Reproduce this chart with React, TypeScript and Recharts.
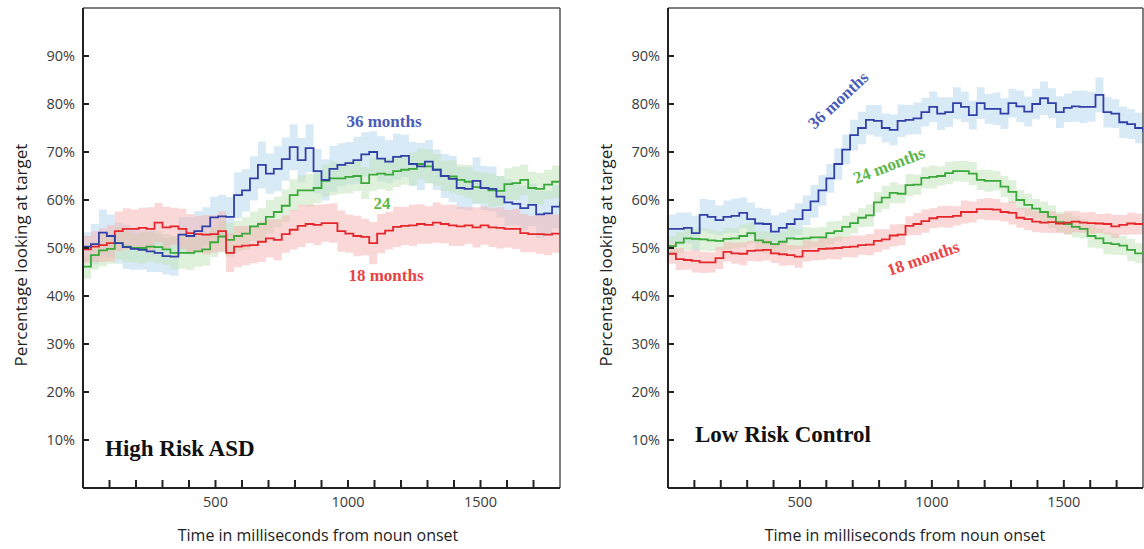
import { ComposedChart, Area, Line, XAxis, YAxis, ReferenceLine } from 'recharts'

// time in ms from noun onset, one step every 30 ms
const times = [
  0, 30, 60, 90, 120, 150, 180, 210, 240, 270,
  300, 330, 360, 390, 420, 450, 480, 510, 540, 570,
  600, 630, 660, 690, 720, 750, 780, 810, 840, 870,
  900, 930, 960, 990, 1020, 1050, 1080, 1110, 1140, 1170,
  1200, 1230, 1260, 1290, 1320, 1350, 1380, 1410, 1440, 1470,
  1500, 1530, 1560, 1590, 1620, 1650, 1680, 1710, 1740, 1770,
  1800,
]

// High Risk ASD
const hrBlue = [
  50.3, 50.8, 53.2, 52.5, 51.0, 50.2, 49.8, 49.6, 49.3, 49.0,
  48.3, 48.2, 52.8, 52.5, 53.5, 54.5, 56.4, 56.6, 56.5, 61.0,
  62.0, 64.5, 67.3, 65.5, 66.5, 68.5, 71.0, 68.3, 70.8, 66.0,
  64.2, 66.5, 67.3, 67.7, 68.3, 69.5, 70.0, 68.6, 68.0, 69.0,
  69.2, 67.5, 67.0, 68.0, 66.3, 65.0, 64.4, 62.5, 62.3, 64.0,
  62.5, 62.3, 60.7, 59.5, 59.2, 58.3, 59.0, 57.0, 57.2, 58.6,
  59.7,
]
const hrGreen = [
  46.1, 48.5, 49.5, 49.8, 51.0, 50.3, 50.0, 50.0, 50.3, 50.2,
  49.7, 49.0, 49.0, 49.0, 49.3, 49.7, 51.2, 52.4, 51.7, 52.5,
  53.0, 54.5, 55.0, 56.5, 57.5, 58.8, 61.0, 62.0, 62.0, 62.5,
  64.0, 64.5, 64.5, 64.8, 65.0, 63.5, 65.3, 65.5, 65.3, 66.0,
  66.3, 66.5, 67.5, 67.0, 66.3, 65.0, 64.9, 64.2, 63.8, 62.7,
  62.5, 62.0, 61.9, 63.3, 63.5, 64.2, 62.5, 62.3, 63.2, 63.8,
  63.8,
]
const hrRed = [
  49.7, 50.3, 50.6, 51.0, 53.5, 54.0, 54.0, 54.2, 54.0, 55.3,
  54.3, 54.5, 54.0, 53.1, 52.9, 52.8, 52.9, 53.5, 49.0, 50.3,
  50.5, 50.6, 51.3, 52.0, 51.7, 52.9, 53.8, 54.6, 55.0, 54.8,
  55.2, 55.2, 53.5, 53.0, 52.5, 52.3, 51.0, 53.0, 53.6, 54.4,
  54.6, 54.7, 55.0, 54.8, 55.3, 55.0, 54.7, 54.5, 54.7, 54.3,
  54.7, 54.3, 54.2, 54.0, 54.0, 53.1, 52.9, 52.9, 52.8, 53.0,
  53.1,
]
const hrBlueErr = [
  3.0, 4.2, 4.8, 4.5, 4.3, 4.6, 4.4, 4.1, 4.3, 4.0,
  3.8, 4.0, 3.6, 3.9, 4.2, 4.0, 4.3, 4.5, 4.1, 4.8,
  4.4, 4.6, 4.9, 4.2, 4.7, 4.5, 4.8, 4.6, 5.0, 4.6,
  4.3, 4.8, 4.5, 4.4, 4.9, 4.6, 4.3, 4.7, 4.5, 4.8,
  4.4, 4.6, 4.9, 4.5, 4.2, 4.6, 4.8, 4.4, 4.5, 4.9,
  4.6, 4.7, 4.3, 4.8, 4.5, 4.6, 4.4, 4.9, 4.7, 4.5,
  4.6,
]
const hrGreenErr = [
  2.5, 3.0, 3.3, 3.1, 3.4, 3.2, 3.0, 3.3, 3.1, 3.4,
  3.2, 3.5, 3.3, 3.6, 3.2, 3.4, 3.1, 3.3, 3.5, 3.2,
  3.4, 3.1, 3.3, 3.5, 3.2, 3.4, 3.3, 3.1, 3.4, 3.2,
  3.3, 3.5, 3.2, 3.4, 3.1, 3.3, 3.5, 3.2, 3.4, 3.3,
  3.1, 3.4, 3.2, 3.5, 3.3, 3.1, 3.4, 3.2, 3.5, 3.3,
  3.2, 3.4, 3.1, 3.3, 3.5, 3.2, 3.4, 3.3, 3.1, 3.4,
  3.2,
]
const hrRedErr = [
  2.8, 3.2, 3.5, 3.8, 4.1, 4.3, 4.0, 4.2, 4.5, 4.1,
  4.3, 3.9, 4.2, 4.0, 3.8, 4.1, 3.9, 4.2, 4.0, 4.3,
  4.1, 3.8, 4.2, 4.0, 4.3, 3.9, 4.1, 4.4, 4.0, 4.2,
  3.9, 4.1, 4.3, 4.0, 4.2, 3.8, 4.4, 4.1, 3.9, 4.2,
  4.0, 4.3, 4.1, 3.9, 4.2, 4.0, 4.3, 4.1, 3.8, 4.2,
  4.0, 4.1, 4.3, 3.9, 4.2, 4.0, 3.8, 4.1, 4.3, 4.0,
  4.1,
]

// Low Risk Control
const lrBlue = [
  54.0, 54.0, 54.2, 53.1, 56.9, 56.5, 55.8, 56.5, 56.7, 57.3,
  56.0, 55.1, 55.0, 53.4, 54.2, 55.0, 56.0, 57.9, 59.7, 62.0,
  64.5, 67.5, 70.5, 73.5, 75.0, 76.7, 76.5, 75.0, 74.6, 76.5,
  76.7, 77.0, 78.3, 79.4, 78.0, 78.3, 80.2, 79.4, 77.7, 80.2,
  79.0, 79.0, 78.0, 80.2, 79.5, 78.4, 80.0, 81.2, 80.2, 78.3,
  79.2, 79.5, 79.4, 79.4, 81.9, 78.3, 78.0, 76.2, 75.8, 75.0,
  74.2,
]
const lrGreen = [
  50.4, 51.1, 52.0, 51.9, 51.8, 51.6, 51.5, 51.9, 52.0, 52.5,
  53.1, 51.6, 51.2, 50.8, 51.3, 52.0, 51.9, 52.0, 52.2, 52.2,
  53.1, 53.5, 54.4, 55.2, 56.3, 56.8, 59.5, 60.5, 61.5, 61.3,
  63.1, 63.2, 64.6, 64.8, 65.0, 65.6, 66.0, 66.0, 65.5, 64.2,
  64.0, 64.0, 62.8, 61.7, 60.0, 59.0, 58.2, 57.5, 56.5, 55.4,
  55.0, 54.4, 54.0, 52.5, 52.0, 51.0, 50.8, 50.5, 49.6, 48.9,
  49.3,
]
const lrRed = [
  48.8, 47.7, 47.5, 47.3, 47.0, 47.0, 47.9, 49.2, 48.9, 48.8,
  49.4, 49.5, 49.6, 48.9, 48.7, 48.5, 48.2, 49.4, 49.4, 49.8,
  49.9, 50.0, 50.2, 50.3, 50.6, 50.7, 51.5, 51.8, 52.6, 52.8,
  54.6, 55.0, 55.6, 56.2, 56.5, 56.5, 56.7, 57.5, 57.5, 58.1,
  58.1, 58.0, 57.5, 57.3, 56.3, 56.0, 55.5, 55.3, 55.4, 55.1,
  55.3, 55.5, 55.3, 55.2, 55.1, 55.0, 54.5, 54.8, 55.1, 55.0,
  55.0,
]
const lrBlueErr = [
  3.0, 3.4, 3.2, 3.6, 3.3, 3.5, 3.1, 3.4, 3.6, 3.2,
  3.5, 3.3, 3.1, 3.4, 3.2, 3.0, 3.3, 3.1, 3.4, 3.2,
  3.0, 3.3, 3.1, 3.2, 3.4, 3.1, 3.3, 3.0, 3.2, 3.4,
  3.1, 3.3, 3.0, 3.2, 3.4, 3.1, 3.3, 3.2, 3.0, 3.3,
  3.1, 3.4, 3.2, 3.0, 3.3, 3.1, 3.2, 3.5, 3.1, 3.3,
  3.0, 3.2, 3.4, 3.1, 3.6, 3.2, 3.0, 3.3, 3.1, 3.2,
  3.0,
]
const lrGreenErr = [
  2.0, 2.2, 2.4, 2.1, 2.3, 2.2, 2.0, 2.3, 2.1, 2.4,
  2.2, 2.0, 2.3, 2.1, 2.2, 2.4, 2.1, 2.3, 2.0, 2.2,
  2.4, 2.1, 2.3, 2.2, 2.0, 2.3, 2.1, 2.4, 2.2, 2.0,
  2.3, 2.1, 2.2, 2.4, 2.0, 2.3, 2.1, 2.2, 2.4, 2.1,
  2.3, 2.0, 2.2, 2.4, 2.1, 2.3, 2.0, 2.2, 2.4, 2.1,
  2.3, 2.2, 2.0, 2.4, 2.1, 2.3, 2.2, 2.0, 2.3, 2.1,
  2.2,
]
const lrRedErr = [
  2.1, 2.3, 2.0, 2.4, 2.2, 2.1, 2.3, 2.0, 2.2, 2.4,
  2.1, 2.3, 2.2, 2.0, 2.4, 2.1, 2.3, 2.2, 2.0, 2.3,
  2.2, 2.4, 2.1, 2.3, 2.0, 2.2, 2.4, 2.1, 2.3, 2.2,
  2.0, 2.3, 2.4, 2.1, 2.2, 2.3, 2.0, 2.4, 2.2, 2.1,
  2.3, 2.2, 2.0, 2.4, 2.1, 2.3, 2.2, 2.1, 2.3, 2.0,
  2.4, 2.2, 2.1, 2.3, 2.0, 2.2, 2.4, 2.1, 2.3, 2.2,
  2.1,
]

const xTicks = [100, 200, 300, 400, 500, 600, 700, 800, 900, 1000, 1100, 1200, 1300, 1400, 1500, 1600, 1700]
const yTicks = [10, 20, 30, 40, 50, 60, 70, 80, 90]

const BLUE = '#3040a6'
const GREEN = '#3aa93a'
const RED = '#e5262a'

const band = (v: number, e: number) => [v - e, v + e]

function buildRows(blue: number[], blueErr: number[], green: number[], greenErr: number[], red: number[], redErr: number[]) {
  return times.map((t, i) => ({
    t,
    blue: blue[i],
    green: green[i],
    red: red[i],
    blueBand: band(blue[i], blueErr[i]),
    greenBand: band(green[i], greenErr[i]),
    redBand: band(red[i], redErr[i]),
  }))
}

const hrRows = buildRows(hrBlue, hrBlueErr, hrGreen, hrGreenErr, hrRed, hrRedErr)
const lrRows = buildRows(lrBlue, lrBlueErr, lrGreen, lrGreenErr, lrRed, lrRedErr)

const tickStyle = { fill: '#3a3a3a', fontSize: 14.5, fontFamily: 'Open Sans, sans-serif' }
const seriesFont = { fontFamily: 'Liberation Serif, serif', fontSize: 17, fontWeight: 700 }

function Panel({ rows, width }: { rows: any[]; width: number }) {
  return (
    <ComposedChart
      width={width}
      height={549}
      data={rows}
      margin={{ top: 8, right: 1, left: 0, bottom: 31 }}
    >
      <XAxis
        type="number"
        dataKey="t"
        domain={[0, 1800]}
        ticks={xTicks}
        interval={0}
        height={30}
        tickFormatter={(v: number) => (v % 500 === 0 ? String(v) : '')}
        tickSize={-8}
        tickMargin={17}
        tick={tickStyle}
        stroke="#222"
        strokeWidth={2}
        allowDataOverflow
      />
      <YAxis
        type="number"
        domain={[0, 100]}
        ticks={yTicks}
        interval={0}
        tickFormatter={(v: number) => `${v}%`}
        width={83}
        tickSize={-6}
        tickMargin={14}
        tick={tickStyle}
        stroke="#222"
        strokeWidth={2}
        allowDataOverflow
      />
      <ReferenceLine y={100} stroke="#555" strokeWidth={1.5} />
      <ReferenceLine x={1800} stroke="#555" strokeWidth={1.5} />
      <Area dataKey="blueBand" type="stepAfter" stroke="none" fill="#b4d6f0" fillOpacity={0.5} isAnimationActive={false} />
      <Area dataKey="greenBand" type="stepAfter" stroke="none" fill="#bfe3b5" fillOpacity={0.5} isAnimationActive={false} />
      <Area dataKey="redBand" type="stepAfter" stroke="none" fill="#f6b2b2" fillOpacity={0.5} isAnimationActive={false} />
      <Line dataKey="green" type="stepAfter" stroke={GREEN} strokeWidth={1.8} dot={false} isAnimationActive={false} />
      <Line dataKey="red" type="stepAfter" stroke={RED} strokeWidth={1.8} dot={false} isAnimationActive={false} />
      <Line dataKey="blue" type="stepAfter" stroke={BLUE} strokeWidth={1.8} dot={false} isAnimationActive={false} />
    </ComposedChart>
  )
}

function AxisTitles({ yx, xx }: { yx: number; xx: number }) {
  return (
    <>
      <text
        x={yx}
        y={255}
        transform={`rotate(-90 ${yx} 255)`}
        textAnchor="middle"
        dominantBaseline="middle"
        fill="#222"
        fontSize={17}
        fontFamily="Open Sans, sans-serif"
      >
        Percentage looking at target
      </text>
      <text x={xx} y={541} textAnchor="middle" fill="#222" fontSize={16} fontFamily="Open Sans, sans-serif">
        Time in milliseconds from noun onset
      </text>
    </>
  )
}

export default function App() {
  return (
    <div style={{ position: 'absolute', left: 0, top: 0, width: 1144, height: 549, background: '#fff' }}>
      <div style={{ position: 'absolute', left: 0, top: 0 }}>
        <Panel rows={hrRows} width={561} />
      </div>
      <div style={{ position: 'absolute', left: 585, top: 0 }}>
        <Panel rows={lrRows} width={559} />
      </div>
      <svg width={1144} height={549} style={{ position: 'absolute', left: 0, top: 0, pointerEvents: 'none' }}>
        <AxisTitles yx={22} xx={318} />
        <AxisTitles yx={607} xx={905} />

        <text x={105} y={456} fill="#111" fontSize={23} fontWeight={700} fontFamily="Liberation Serif, serif">High Risk ASD</text>
        <text x={695} y={442} fill="#111" fontSize={23} fontWeight={700} fontFamily="Liberation Serif, serif">Low Risk Control</text>

        <text x={384} y={127} textAnchor="middle" fill="#4a5cb8" {...seriesFont}>36 months</text>
        <text x={382} y={209} textAnchor="middle" fill="#5cb84a" {...seriesFont}>24</text>
        <text x={386} y={281} textAnchor="middle" fill="#e84444" {...seriesFont}>18 months</text>

        <text x={838} y={106} textAnchor="middle" transform="rotate(-43 838 100)" fill="#4a5cb8" {...seriesFont}>36 months</text>
        <text x={889} y={171} textAnchor="middle" transform="rotate(-21 889 165)" fill="#5cb84a" {...seriesFont}>24 months</text>
        <text x={923} y={264} textAnchor="middle" transform="rotate(-19 923 258)" fill="#e84444" {...seriesFont}>18 months</text>
      </svg>
    </div>
  )
}
